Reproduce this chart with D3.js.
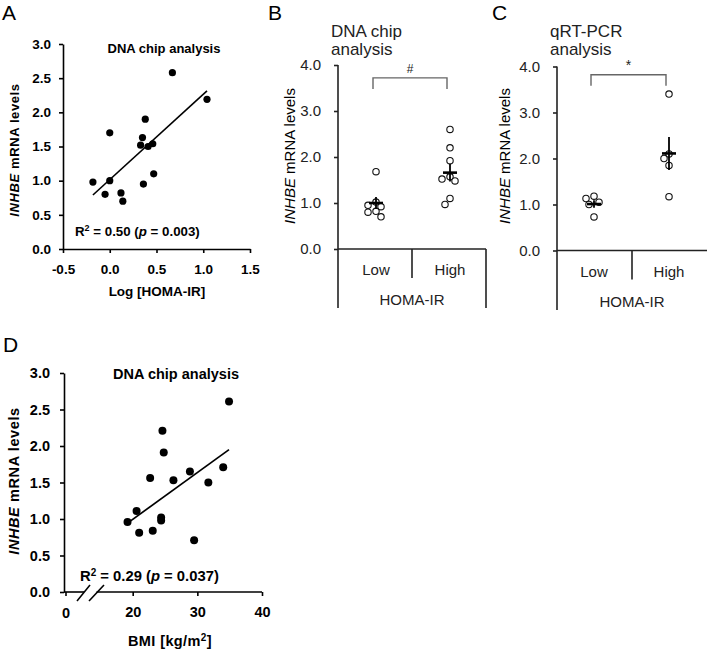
<!DOCTYPE html>
<html><head><meta charset="utf-8">
<script src="https://cdn.jsdelivr.net/npm/d3@7"></script>
<style>body{margin:0;background:#fff}svg{display:block;font-family:"Liberation Sans",Arial,sans-serif}</style>
</head><body><svg id="c" width="707" height="651"></svg>
<script>
// ---------- DATA ----------
// Panel A: Log[HOMA-IR] vs INHBE
const logHoma = [0.67, 1.04, 0.38, 0.00, 0.35, 0.33, 0.41, 0.46, 0.47, -0.18, 0.00, -0.05, 0.12, 0.14, 0.36];
const inhbeA  = [2.58, 2.19, 1.90, 1.70, 1.63, 1.52, 1.50, 1.54, 1.10, 0.98, 1.00, 0.80, 0.82, 0.70, 0.95];
const fitA = [1.015, 1.25];           // intercept, slope
const xTicksA = [-0.5, 0, 0.5, 1.0, 1.5];
const yTicksA = [0, 0.5, 1.0, 1.5, 2.0, 2.5, 3.0];
// Panel D: BMI vs INHBE
const bmi    = [24.6, 24.8, 22.7, 26.3, 28.85, 34.9, 31.7, 34.0, 19.2, 20.6, 21.0, 23.1, 24.4, 24.4, 29.5];
const inhbeD = [2.21, 1.91, 1.56, 1.53, 1.65, 2.61, 1.50, 1.71, 0.96, 1.11, 0.81, 0.84, 1.02, 0.98, 0.71];
const fitD = [-0.287, 0.0641];
const xTicksD = [20, 30, 40];
// Panel B: DNA chip, HOMA-IR groups
const groups = ["Low", "High"];
const chipLow  = [1.68, 1.02, 0.95, 0.92, 0.82, 0.80, 0.70];
const chipHigh = [2.60, 2.20, 1.92, 1.57, 1.52, 1.48, 1.10, 0.97];
const chipMean = [1.00, 1.66];
const chipSEM  = [0.13, 0.19];
// Panel C: qRT-PCR
const pcrLow  = [1.18, 1.13, 1.05, 1.00, 0.73];
const pcrHigh = [3.40, 2.10, 2.00, 1.85, 1.17];
const pcrMean = [1.01, 2.11];
const pcrSEM  = [0.08, 0.36];
const yTicksBC = [0, 1, 2, 3, 4];
const sigLevel = [3.72, 3.82];  // bracket heights (B, C)

// ---------- DRAW ----------
const svg = d3.select("#c");
const F = '"Liberation Sans",Arial,sans-serif';

function letter(t, x, y) {
  svg.append("text").attr("x", x).attr("y", y).attr("font-size", 21).text(t);
}
function yLabel(g, cx, cy, size, bold, ls) {
  const t = g.append("text").attr("transform", `translate(${cx},${cy}) rotate(-90)`)
    .attr("text-anchor", "middle").attr("font-size", size)
    .attr("font-weight", bold ? "bold" : "normal").attr("letter-spacing", ls || 0)
    .attr("dy", "0.35em");
  t.append("tspan").attr("font-style", "italic").text("INHBE");
  t.append("tspan").text(" mRNA levels");
}
function styleAxis(g, size, bold, color) {
  g.selectAll("path,line").attr("stroke", color).attr("stroke-width", 1.6);
  g.selectAll("text").attr("font-size", size).attr("font-weight", bold ? "bold" : "normal")
    .attr("font-family", F).attr("fill", color);
}

// ===== Panel A =====
letter("A", 2, 20);
{
  const g = svg.append("g");
  const x = d3.scaleLinear().domain([-0.5, 1.5]).range([63, 250]);
  const y = d3.scaleLinear().domain([0, 3]).range([249, 44]);
  const ya = g.append("g").attr("transform", `translate(${x(-0.5)},0)`)
    .call(d3.axisLeft(y).tickValues(yTicksA).tickSize(4).tickPadding(8).tickSizeOuter(0).tickFormat(d => d.toFixed(1)));
  styleAxis(ya, 13.5, true, "#000");
  const xa = g.append("g").attr("transform", `translate(0,${y(0)})`)
    .call(d3.axisBottom(x).tickValues(xTicksA).tickSize(4).tickPadding(11).tickSizeOuter(0).tickFormat(d => d.toFixed(1)));
  styleAxis(xa, 13.5, true, "#000");
  g.selectAll("circle.a").data(logHoma).join("circle")
    .attr("cx", (d) => x(d)).attr("cy", (d, i) => y(inhbeA[i])).attr("r", 3.6).attr("fill", "#000");
  const x0 = d3.min(logHoma), x1 = d3.max(logHoma);
  g.append("line").attr("x1", x(x0)).attr("y1", y(fitA[0] + fitA[1] * x0))
    .attr("x2", x(x1)).attr("y2", y(fitA[0] + fitA[1] * x1)).attr("stroke", "#000").attr("stroke-width", 1.6);
  g.append("text").attr("x", 164).attr("y", 53).attr("text-anchor", "middle")
    .attr("font-size", 13).attr("font-weight", "bold").text("DNA chip analysis");
  const r = g.append("text").attr("x", 75).attr("y", 236).attr("font-size", 13.3).attr("font-weight", "bold");
  r.append("tspan").text("R");
  r.append("tspan").attr("font-size", 9).attr("dy", -5).text("2");
  r.append("tspan").attr("dy", 5).text(" = 0.50 (");
  r.append("tspan").attr("font-style", "italic").text("p");
  r.append("tspan").text(" = 0.003)");
  g.append("text").attr("x", 157).attr("y", 296).attr("text-anchor", "middle")
    .attr("font-size", 13.5).attr("font-weight", "bold").text("Log [HOMA-IR]");
  yLabel(g, 14, 150, 13, true, 0.6);
}

// ===== Panels B and C =====
function groupPanel(opt) {
  const g = svg.append("g");
  const col = "#222";
  const y = d3.scaleLinear().domain([0, 4]).range([opt.y0, opt.y4]);
  const x = d3.scalePoint().domain(groups).range(opt.centers);
  const ya = g.append("g").attr("transform", `translate(${opt.ax},0)`)
    .call(d3.axisLeft(y).tickValues(yTicksBC).tickSize(4).tickPadding(13).tickSizeOuter(0).tickFormat(d => d.toFixed(1)));
  styleAxis(ya, 15, false, col);
  ya.select("path").remove();
  const ln = (x1, y1, x2, y2, w, c) => g.append("line").attr("x1", x1).attr("y1", y1).attr("x2", x2).attr("y2", y2)
    .attr("stroke", c || col).attr("stroke-width", w || 1.6);
  ln(opt.ax, y(4), opt.ax, opt.bottom);
  ln(opt.ax, y(0), opt.right, y(0));
  ln(opt.divider, y(0), opt.divider, y(0) + 29);
  if (opt.rightBorder) ln(opt.right, y(0), opt.right, opt.bottom);
  groups.forEach(k => g.append("text").attr("x", x(k)).attr("y", y(0) + 26).attr("text-anchor", "middle")
    .attr("font-size", 15).attr("fill", col).text(k));
  g.append("text").attr("x", opt.divider).attr("y", y(0) + 56).attr("text-anchor", "middle")
    .attr("font-size", 15).attr("fill", col).text("HOMA-IR");
  opt.title.forEach((t, i) => g.append("text").attr("x", opt.tx).attr("y", 37 + i * 18)
    .attr("font-size", 17).attr("fill", col).text(t));
  yLabel(g, opt.lx, 156, 15, false, 0);
  // points with simple deterministic dodge
  [opt.low, opt.high].forEach((vals, gi) => {
    const cx = x(groups[gi]);
    const placed = [];
    const order = vals.slice().sort((a, b) => b - a);
    order.forEach(v => {
      const py = y(v);
      const cands = [0, -5, 5, -2.5, 2.5, -8, 8];
      let off = cands.find(o => placed.every(p => Math.hypot(p[0] - o, p[1] - py) >= 6)) ;
      if (off === undefined) off = 0;
      placed.push([off, py]);
    });
    g.selectAll(null).data(placed).join("circle")
      .attr("cx", d => cx + d[0]).attr("cy", d => d[1]).attr("r", 3.2)
      .attr("fill", "#fff").attr("fill-opacity", 0.6).attr("stroke", "#111").attr("stroke-width", 1.1);
    const m = opt.mean[gi], s = opt.sem[gi];
    ln(cx, y(m + s), cx, y(m - s), 1.8, "#000");
    ln(cx - 7, y(m), cx + 7, y(m), 2.6, "#000");
  });
  // significance bracket
  const by = y(opt.sig);
  const xa = x(groups[0]) - 3, xb = x(groups[1]) - 3;
  g.append("path").attr("d", `M${xa},${by + 11}V${by}H${xb}V${by + 11}`)
    .attr("fill", "none").attr("stroke", "#666").attr("stroke-width", 1.4);
  g.append("text").attr("x", (xa + xb) / 2).attr("y", by - 5).attr("text-anchor", "middle")
    .attr("font-size", opt.sym === "*" ? 14 : 12).attr("fill", col).text(opt.sym);
}
letter("B", 268, 20);
groupPanel({ y0: 249, y4: 65, ax: 338, centers: [376, 450], divider: 412, right: 486, bottom: 308,
  rightBorder: true, title: ["DNA chip", "analysis"], tx: 331, lx: 290,
  low: chipLow, high: chipHigh, mean: chipMean, sem: chipSEM, sig: sigLevel[0], sym: "#" });
letter("C", 492, 20);
groupPanel({ y0: 250.5, y4: 66.5, ax: 557, centers: [594, 669], divider: 632, right: 707, bottom: 310,
  rightBorder: false, title: ["qRT-PCR", "analysis"], tx: 550, lx: 505,
  low: pcrLow, high: pcrHigh, mean: pcrMean, sem: pcrSEM, sig: sigLevel[1], sym: "*" });

// ===== Panel D =====
letter("D", 3, 352);
{
  const g = svg.append("g");
  const x = d3.scaleLinear().domain([20, 40]).range([132.7, 262]);
  const y = d3.scaleLinear().domain([0, 3]).range([592, 373]);
  const axX = 64;
  const ya = g.append("g").attr("transform", `translate(${axX},0)`)
    .call(d3.axisLeft(y).tickValues(yTicksA).tickSize(4).tickPadding(10).tickSizeOuter(0).tickFormat(d => d.toFixed(1)));
  styleAxis(ya, 14.5, true, "#000");
  const xa = g.append("g").attr("transform", `translate(0,${y(0)})`)
    .call(d3.axisBottom(x).tickValues(xTicksD).tickSize(4).tickPadding(11).tickSizeOuter(0));
  styleAxis(xa, 14.5, true, "#000");
  xa.select("path").remove();
  const ln = (x1, y1, x2, y2) => g.append("line").attr("x1", x1).attr("y1", y1).attr("x2", x2).attr("y2", y2)
    .attr("stroke", "#000").attr("stroke-width", 1.6);
  ln(axX, y(0), 84, y(0));
  ln(96.5, y(0), x(40), y(0));
  ln(77, y(0) + 9, 90, y(0) - 7);
  ln(89, y(0) + 9, 104, y(0) - 7);
  ln(66, y(0), 66, y(0) + 4);
  g.append("text").attr("x", 66).attr("y", y(0) + 25.5).attr("text-anchor", "middle")
    .attr("font-size", 14.5).attr("font-weight", "bold").text("0");
  g.selectAll("circle.d").data(bmi).join("circle")
    .attr("cx", d => x(d)).attr("cy", (d, i) => y(inhbeD[i])).attr("r", 4).attr("fill", "#000");
  const x0 = d3.min(bmi), x1 = d3.max(bmi);
  g.append("line").attr("x1", x(x0)).attr("y1", y(fitD[0] + fitD[1] * x0))
    .attr("x2", x(x1)).attr("y2", y(fitD[0] + fitD[1] * x1)).attr("stroke", "#000").attr("stroke-width", 1.7);
  g.append("text").attr("x", 113).attr("y", 379).attr("font-size", 14.5).attr("font-weight", "bold")
    .text("DNA chip analysis");
  const r = g.append("text").attr("x", 80).attr("y", 581).attr("font-size", 14.8).attr("font-weight", "bold");
  r.append("tspan").text("R");
  r.append("tspan").attr("font-size", 10).attr("dy", -5.5).text("2");
  r.append("tspan").attr("dy", 5.5).text(" = 0.29 (");
  r.append("tspan").attr("font-style", "italic").text("p");
  r.append("tspan").text(" = 0.037)");
  const t = g.append("text").attr("x", 170).attr("y", 646).attr("text-anchor", "middle")
    .attr("font-size", 14.5).attr("font-weight", "bold").attr("letter-spacing", 0.4);
  t.append("tspan").text("BMI [kg/m");
  t.append("tspan").attr("font-size", 10).attr("dy", -5).text("2");
  t.append("tspan").attr("dy", 5).text("]");
  yLabel(g, 14, 481, 14.5, true, 0.6);
}
</script></body></html>
